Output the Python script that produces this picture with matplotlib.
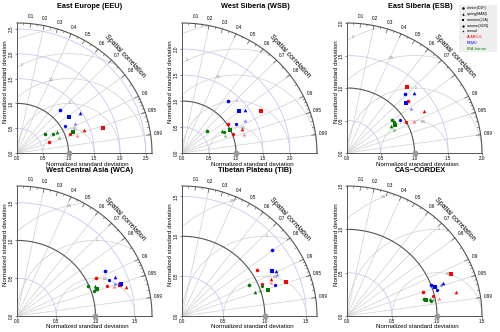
import numpy as np
import matplotlib
matplotlib.use("Agg")
import matplotlib.pyplot as plt

plt.rcParams['font.family'] = ['Liberation Sans', 'DejaVu Sans']

seasons = ["winter(DJF)", "spring(MAM)", "summer(JJA)", "autumn(SON)", "annual"]
season_markers = ["o", "^", "s", "h", "*"]
models = ["ALARO-0", "REMO", "ERA-Interim"]
model_colors = ["#ff0000", "#0000ff", "#007a00"]

# normalized std / spatial correlation ; rows = models, cols = seasons
eeu_std = [[0.66, 1.38, 1.74, 1.10, 1.22], [1.20, 1.46, 1.25, 1.09, 1.28], [0.67, 0.88, 1.16, 0.80, 0.87]]
eeu_cor = [[0.938, 0.941, 0.956, 0.935, 0.962], [0.690, 0.833, 0.813, 0.863, 0.886], [0.816, 0.873, 0.932, 0.879, 0.939]]
wsb_std = [[1.02, 1.21, 1.67, 1.02, 1.19], [1.31, 1.43, 1.32, 1.14, 1.32], [0.63, 0.86, 1.00, 0.88, 0.86]]
wsb_cor = [[0.842, 0.925, 0.877, 0.935, 0.958], [0.648, 0.819, 0.795, 0.876, 0.884], [0.730, 0.865, 0.898, 0.885, 0.923]]
esb_std = [[1.21, 1.31, 1.35, 0.99, 1.10], [1.25, 1.35, 1.17, 0.93, 1.17], [0.84, 0.77, 0.83, 0.84, 0.78]]
esb_cor = [[0.751, 0.872, 0.653, 0.880, 0.903], [0.691, 0.733, 0.753, 0.842, 0.813], [0.801, 0.846, 0.855, 0.821, 0.894]]
wca_std = [[1.13, 1.44, 1.37, 1.22, 1.29], [1.27, 1.35, 1.39, 1.27, 1.32], [0.99, 1.07, 1.08, 1.04, 1.07]]
wca_cor = [[0.893, 0.963, 0.954, 0.944, 0.956], [0.881, 0.926, 0.953, 0.926, 0.946], [0.914, 0.927, 0.943, 0.949, 0.945]]
tib_std = [[1.08, 1.17, 1.32, 1.05, 1.15], [1.37, 1.27, 1.22, 1.19, 1.26], [0.90, 0.93, 1.09, 1.04, 0.99]]
tib_cor = [[0.843, 0.920, 0.948, 0.925, 0.931], [0.796, 0.898, 0.888, 0.944, 0.911], [0.901, 0.946, 0.956, 0.931, 0.947]]
cas_std = [[0.89, 1.24, 1.25, 0.98, 1.04], [1.00, 1.13, 1.04, 1.04, 1.10], [0.88, 0.94, 0.90, 0.95, 0.97]]
cas_cor = [[0.949, 0.974, 0.923, 0.972, 0.981], [0.933, 0.941, 0.945, 0.958, 0.945], [0.976, 0.977, 0.980, 0.984, 0.981]]

titles = ["East Europe (EEU)", "West Siberia (WSB)", "East Siberia (ESB)",
          "West Central Asia (WCA)", "Tibetan Plateau (TIB)", "CAS\u2212CORDEX"]
rmax_list = [2.62, 2.5, 2.0, 1.72, 1.63, 1.5]
ticks_list = [[0, 0.5, 1, 1.5, 2, 2.5], [0, 0.5, 1, 1.5, 2], [0, 0.5, 1, 1.5, 2],
              [0, 0.5, 1, 1.5], [0, 0.5, 1, 1.5], [0, 0.5, 1, 1.5]]
std_data = [eeu_std, wsb_std, esb_std, wca_std, tib_std, cas_std]
cor_data = [eeu_cor, wsb_cor, esb_cor, wca_cor, tib_cor, cas_cor]

cor_lab = [0.1, 0.2, 0.3, 0.4, 0.5, 0.6, 0.7, 0.8, 0.9, 0.95, 0.99]
cor_lines = [0.2, 0.4, 0.6, 0.7, 0.8, 0.9, 0.95, 0.99]

W, H = 500, 332
fig = plt.figure(figsize=(5, 3.32), dpi=100)
lefts = [17, 182, 347]
bottoms = [179, 16]
AW, AH = 135, 130
dark = "#555555"


def taylor(ax, std, cor, R, ticks):
    th = np.linspace(0, np.pi / 2, 300)
    ax.set_xlim(0, R); ax.set_ylim(0, R)
    for c in cor_lines:
        a = np.arccos(c)
        ax.plot([0, R * np.cos(a)], [0, R * np.sin(a)], color="#cfcfcf", lw=0.5, zorder=1)
    # centred RMS arcs
    for r in np.arange(0.5, R + 1.01, 0.5):
        phi = np.linspace(0, np.pi, 600)
        x = 1 + r * np.cos(phi); y = r * np.sin(phi)
        bad = (np.hypot(x, y) > R) | (x < 0)
        x[bad] = np.nan; y[bad] = np.nan
        ax.plot(x, y, color="#cfcfcf", lw=0.5, zorder=1)
        p = np.deg2rad(75 + 28 * (r - 0.5))
        while p < np.pi and (np.hypot(1 + r * np.cos(p), r * np.sin(p)) > R * 0.97 or 1 + r * np.cos(p) < 0.02):
            p += 0.02
        if p < np.pi:
            ax.text(1 + r * np.cos(p), r * np.sin(p), "%g" % r, fontsize=2.6, color="#777777",
                    ha="center", va="center", zorder=2)
    for s in [0.5, 1.5, 2.0, 2.5]:
        if s < R - 0.01:
            ax.plot(s * np.cos(th), s * np.sin(th), color="#c8c8f4", lw=0.6, zorder=1)
    ax.plot(np.cos(th), np.sin(th), color=dark, lw=0.8, zorder=2)
    ax.plot(R * np.cos(th), R * np.sin(th), color=dark, lw=0.8, zorder=2, clip_on=False)
    # ticks on the outer arc
    minor = list(np.arange(0.05, 0.9, 0.1)) + list(np.arange(0.91, 0.995, 0.01))
    for c in minor:
        a = np.arccos(c)
        ax.plot([R * np.cos(a), 0.985 * R * np.cos(a)], [R * np.sin(a), 0.985 * R * np.sin(a)],
                color=dark, lw=0.4)
    for c in cor_lab:
        a = np.arccos(c)
        ax.plot([R * np.cos(a), 0.97 * R * np.cos(a)], [R * np.sin(a), 0.97 * R * np.sin(a)],
                color=dark, lw=0.5)
        ax.text(1.055 * R * np.cos(a), 1.055 * R * np.sin(a), "%g" % c, fontsize=3.3,
                ha="center", va="center", clip_on=False)
    a = np.deg2rad(43)
    ax.text(1.095 * R * np.cos(a), 1.095 * R * np.sin(a), "Spatial correlation", fontsize=5.0,
            rotation=-47, ha="center", va="center", rotation_mode="anchor")
    for i in range(3):
        for j in range(5):
            s, c = std[i][j], cor[i][j]
            ax.plot(s * c, s * np.sqrt(1 - c ** 2), marker=season_markers[j], color=model_colors[i],
                    ms=3.4 if j == 4 else 2.6, mew=0, alpha=0.5 if j == 4 else 1, zorder=4)
    ax.plot(1, 0, "o", color="#999999", ms=3.2, clip_on=False, zorder=5)
    for sp in ["top", "right"]:
        ax.spines[sp].set_visible(False)
    for sp in ["left", "bottom"]:
        ax.spines[sp].set_color(dark); ax.spines[sp].set_linewidth(0.7)
    ax.set_xticks(ticks); ax.set_yticks(ticks)
    ax.set_xticklabels(["%.1f" % t for t in ticks])
    ax.set_yticklabels(["%.1f" % t for t in ticks], rotation=90, va="center")
    ax.tick_params(length=1.5, width=0.5, labelsize=3.3, pad=1, color=dark)
    ax.patch.set_alpha(0)


for k in range(6):
    l = lefts[k % 3]; b = bottoms[k // 3]
    ax = fig.add_axes([l / W, b / H, AW / W, AH / H])
    taylor(ax, std_data[k], cor_data[k], rmax_list[k], ticks_list[k])
    ty = 326 if k < 3 else 162
    fig.text((l + 73) / W, ty / H, titles[k], fontsize=5.3, fontweight="bold", ha="center", va="center")
    fig.text((l + 70) / W, (b - 11) / H, "Normalized standard deviation", fontsize=4.4,
             ha="center", va="center")
    fig.text((l - 11) / W, (b + 71) / H, "Normalized standard deviation", fontsize=4.4,
             rotation=90, ha="center", va="center")

# legend box
lg = fig.add_axes([459 / W, (H - 52) / H, 38 / W, 47 / H])
lg.set_xlim(0, 1); lg.set_ylim(0, 1)
lg.set_xticks([]); lg.set_yticks([])
lg.patch.set_facecolor("#eeeeee")
for sp in lg.spines.values():
    sp.set_visible(False)
n = len(seasons) + len(models)
for j in range(n):
    y = 1 - (j + 0.6) / (n + 0.2)
    if j < len(seasons):
        lg.plot(0.1, y, marker=season_markers[j], color="black", ms=1.8, mew=0)
        lg.text(0.2, y, seasons[j], fontsize=2.6, va="center", ha="left")
    else:
        m = j - len(seasons)
        lg.text(0.2, y, models[m], fontsize=2.6, va="center", ha="left", color=model_colors[m])

fig.savefig("out.png", dpi=100)
